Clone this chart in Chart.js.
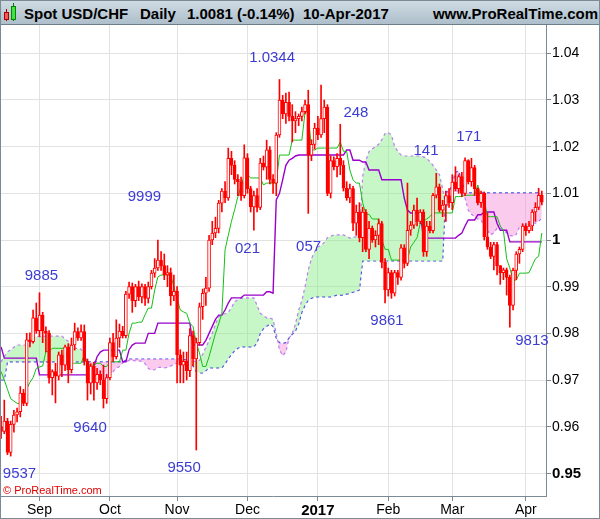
<!DOCTYPE html>
<html>
<head>
<meta charset="utf-8">
<script src="https://cdn.jsdelivr.net/npm/chart.js"></script>
<style>
  body { margin: 0; background: #fff; }
  #wrap { position: relative; width: 600px; height: 519px; overflow: hidden; font-family: "Liberation Sans", Arial, sans-serif; }
  #head { position: absolute; left: 0; top: 0; width: 600px; height: 24px; border-bottom: 1px solid #6f7f8a;
          background: linear-gradient(#d0dce4, #adbfcb); }
  #head span { position: absolute; top: 6px; font-size: 15px; line-height: 15px; font-weight: bold; color: #000; white-space: nowrap; }
  #head i { position: absolute; display: block; }
  #chart { position: absolute; left: 0; top: 25px; }
  #copy { position: absolute; left: 3px; top: 484px; font-size: 11px; color: #e00000; }
  #frame { position: absolute; left: 0; top: 0; width: 598px; height: 517px; border: 1px solid #7b8a94; pointer-events: none; }
</style>
</head>
<body>
<div id="wrap">
  <div id="head">
    <i style="left:6px;top:9px;width:1px;height:12px;background:#900"></i>
    <i style="left:4px;top:12px;width:3px;height:6px;background:#f05a5a;border:1px solid #a00"></i>
    <i style="left:13px;top:3px;width:1px;height:18px;background:#070"></i>
    <i style="left:11px;top:6px;width:3px;height:12px;background:#46e046;border:1px solid #080"></i>
    <span style="left:24px">Spot USD/CHF</span>
    <span style="left:140px">Daily</span>
    <span style="left:187px">1.0081 (-0.14%)</span>
    <span style="left:303px">10-Apr-2017</span>
    <span style="right:2px">www.ProRealTime.com</span>
  </div>
  <canvas id="chart" width="600" height="494"></canvas>
  <div id="copy">© ProRealTime.com</div>
  <div id="frame"></div>
</div>
<script>
// trading days 16-Aug-2016 .. 10-Apr-2017, index 0..169
const opens = [
  .9600,.9590,.9612,.9545,.9605,.9625,.9632,.9672,.9650,.9786,
  .9782,.9833,.9806,.9839,.9805,.9800,.9705,.9718,.9708,.9754,
  .9732,.9771,.9722,.9775,.9804,.9790,.9804,.9740,.9693,.9730,
  .9694,.9712,.9700,.9660,.9705,.9780,.9750,.9790,.9805,.9795,
  .9884,.9900,.9870,.9900,.9878,.9900,.9875,.9900,.9929,.9940,
  .9957,.9945,.9925,.9930,.9880,.9890,.9754,.9732,.9740,.9720,
  .9795,.9745,.9780,.9857,.9886,.9897,1.0000,1.0015,1.0025,1.0079,
  1.0105,1.0090,1.0175,1.0160,1.0130,1.0125,1.0095,1.0176,1.0110,1.0071,
  1.0095,1.0070,1.0165,1.0156,1.0193,1.0130,1.0122,1.0225,1.0300,1.0270,
  1.0295,1.0265,1.0255,1.0260,1.0265,1.0275,1.0290,1.0182,1.0205,1.0240,
  1.0225,1.0260,1.0285,1.0100,1.0170,1.0157,1.0175,1.0160,1.0111,1.0090,
  1.0110,1.0036,1.0060,1.0005,1.0060,.9980,1.0025,1.0000,1.0010,1.0035,
  .9952,.9893,.9930,.9886,.9930,.9920,.9983,.9950,1.0021,1.0032,
  1.0064,1.0040,1.0060,.9975,1.0030,1.0020,1.0096,1.0114,1.0064,1.0075,
  1.0095,1.0080,1.0124,1.0110,1.0136,1.0100,1.0170,1.0125,1.0155,1.0110,
  1.0080,1.0100,1.0007,.9985,.9965,.9990,.9945,.9930,.9936,.9920,
  .9860,.9935,.9970,.9980,1.0030,1.0020,1.0030,1.0060,1.0070,1.0096
];
const highs = [
  .9622,.9657,.9618,.9612,.9635,.9640,.9686,.9680,.9800,.9801,
  .9850,.9865,.9887,.9845,.9814,.9806,.9722,.9736,.9760,.9764,
  .9775,.9778,.9790,.9822,.9812,.9818,.9818,.9745,.9735,.9738,
  .9725,.9720,.9732,.9712,.9790,.9800,.9829,.9820,.9815,.9890,
  .9910,.9908,.9905,.9912,.9906,.9905,.9910,.9935,.9960,1.0000,
  .9975,.9970,.9945,.9940,.9925,.9900,.9765,.9760,.9760,.9810,
  .9805,.9790,.9865,.9895,.9920,1.0010,1.0040,1.0049,1.0085,1.0110,
  1.0125,1.0197,1.0190,1.0170,1.0140,1.0135,1.0204,1.0185,1.0115,1.0105,
  1.0110,1.0175,1.0180,1.0214,1.0200,1.0140,1.0230,1.0344,1.0310,1.0315,
  1.0317,1.0290,1.0275,1.0270,1.0285,1.0300,1.0321,1.0215,1.0250,1.0265,
  1.0332,1.0300,1.0290,1.0180,1.0178,1.0185,1.0248,1.0170,1.0125,1.0120,
  1.0115,1.0075,1.0080,1.0070,1.0065,1.0040,1.0030,1.0020,1.0045,1.0040,
  .9960,.9940,.9935,.9935,.9935,.9990,.9990,1.0122,1.0040,1.0075,
  1.0090,1.0065,1.0065,1.0040,1.0040,1.0100,1.0143,1.0120,1.0085,1.0105,
  1.0110,1.0140,1.0157,1.0140,1.0145,1.0176,1.0172,1.0175,1.0160,1.0112,
  1.0105,1.0103,1.0058,.9995,.9995,.9995,.9945,.9940,.9940,.9925,
  .9940,.9975,.9985,1.0035,1.0035,1.0040,1.0065,1.0080,1.0111,1.0105
];
const lows = [
  .9575,.9585,.9540,.9537,.9588,.9610,.9621,.9645,.9645,.9771,
  .9779,.9800,.9793,.9780,.9760,.9693,.9668,.9651,.9700,.9707,
  .9720,.9694,.9715,.9764,.9785,.9785,.9732,.9657,.9670,.9657,
  .9680,.9690,.9640,.9650,.9700,.9740,.9745,.9770,.9790,.9790,
  .9875,.9845,.9857,.9870,.9865,.9860,.9865,.9895,.9920,.9935,
  .9935,.9915,.9900,.9860,.9870,.9694,.9694,.9694,.9700,.9707,
  .9730,.9550,.9775,.9830,.9860,.9890,.9990,1.0005,1.0015,1.0060,
  1.0080,1.0085,1.0140,1.0120,1.0095,1.0085,1.0090,1.0100,1.0060,1.0021,
  1.0060,1.0065,1.0150,1.0130,1.0120,1.0100,1.0095,1.0220,1.0260,1.0250,
  1.0255,1.0210,1.0230,1.0245,1.0255,1.0270,1.0057,1.0170,1.0195,1.0215,
  1.0220,1.0230,1.0095,1.0090,1.0150,1.0135,1.0140,1.0105,1.0085,1.0080,
  1.0020,1.0010,.9996,.9975,.9975,.9960,.9995,.9985,.9990,.9940,
  .9865,.9880,.9875,.9880,.9905,.9914,.9940,.9945,1.0010,1.0025,
  1.0030,1.0035,.9965,.9965,1.0015,1.0015,1.0090,1.0060,1.0050,1.0040,
  1.0070,1.0065,1.0105,1.0100,1.0093,1.0095,1.0120,1.0115,1.0095,1.0075,
  1.0070,1.0000,.9980,.9960,.9936,.9925,.9905,.9915,.9882,.9813,
  .9850,.9915,.9950,.9975,1.0010,1.0015,1.0020,1.0040,1.0065,1.0075
];
const closes = [
  .9590,.9612,.9545,.9605,.9625,.9632,.9672,.9650,.9786,.9782,
  .9833,.9806,.9839,.9805,.9800,.9705,.9718,.9708,.9754,.9732,
  .9771,.9722,.9775,.9804,.9790,.9804,.9740,.9693,.9730,.9694,
  .9712,.9700,.9660,.9705,.9780,.9750,.9790,.9805,.9795,.9884,
  .9900,.9870,.9900,.9878,.9900,.9875,.9900,.9929,.9940,.9957,
  .9945,.9925,.9930,.9880,.9890,.9754,.9732,.9740,.9720,.9795,
  .9745,.9780,.9857,.9886,.9897,1.0000,1.0015,1.0025,1.0079,1.0105,
  1.0090,1.0175,1.0160,1.0130,1.0125,1.0095,1.0176,1.0110,1.0071,1.0095,
  1.0070,1.0165,1.0156,1.0193,1.0130,1.0122,1.0225,1.0300,1.0270,1.0295,
  1.0265,1.0255,1.0260,1.0265,1.0275,1.0290,1.0182,1.0205,1.0240,1.0225,
  1.0260,1.0285,1.0100,1.0170,1.0157,1.0175,1.0160,1.0111,1.0090,1.0110,
  1.0036,1.0060,1.0005,1.0060,.9980,1.0025,1.0000,1.0010,1.0035,.9952,
  .9893,.9930,.9886,.9930,.9920,.9983,.9950,1.0021,1.0032,1.0064,
  1.0040,1.0060,.9975,1.0030,1.0020,1.0096,1.0114,1.0064,1.0075,1.0095,
  1.0080,1.0124,1.0110,1.0136,1.0100,1.0170,1.0125,1.0155,1.0110,1.0080,
  1.0100,1.0007,.9985,.9965,.9990,.9945,.9930,.9936,.9920,.9860,
  .9935,.9970,.9980,1.0030,1.0020,1.0030,1.0060,1.0070,1.0096,1.0081
];
// Ichimoku lines as drawn on the chart
const tenkan = [
  .9718,.9700,.9680,.9660,.9655,.9650,.9650,.9665,.9680,.9695,
  .9705,.9725,.9728,.9730,.9761,.9761,.9768,.9768,.9768,.9768,
  .9768,.9736,.9736,.9736,.9736,.9736,.9754,.9732,.9732,.9732,
  .9736,.9736,.9729,.9729,.9739,.9739,.9739,.9739,.9764,.9764,
  .9800,.9822,.9822,.9824,.9824,.9840,.9854,.9854,.9893,.9921,
  .9925,.9925,.9925,.9925,.9900,.9876,.9850,.9846,.9843,.9822,
  .9814,.9780,.9758,.9729,.9729,.9750,.9775,.9800,.9820,.9843,
  .9979,1.0010,1.0040,1.0065,1.0093,1.0115,1.0140,1.0140,1.0133,1.0133,
  1.0133,1.0133,1.0118,1.0122,1.0122,1.0122,1.0122,1.0182,1.0182,1.0182,
  1.0182,1.0214,1.0214,1.0214,1.0214,1.0274,1.0274,1.0193,1.0193,1.0197,
  1.0197,1.0197,1.0197,1.0197,1.0197,1.0197,1.0210,1.0190,1.0190,1.0150,
  1.0129,1.0122,1.0122,1.0080,1.0055,1.0055,1.0045,1.0045,1.0045,1.0000,
  .9980,.9980,.9957,.9957,.9957,.9957,.9957,.9957,.9985,.9995,
  1.0005,1.0036,1.0040,1.0045,1.0050,1.0058,1.0058,1.0058,1.0058,1.0058,
  1.0058,1.0058,1.0093,1.0093,1.0093,1.0096,1.0096,1.0096,1.0096,1.0118,
  1.0086,1.0086,1.0050,1.0050,1.0050,1.0050,1.0030,1.0020,.9960,.9940,
  .9914,.9914,.9929,.9929,.9929,.9930,.9945,.9960,.9965,1.0015
];
const kijun = [
  .9771,.9747,.9747,.9747,.9747,.9747,.9747,.9747,.9747,.9747,
  .9747,.9747,.9711,.9711,.9711,.9711,.9711,.9711,.9711,.9711,
  .9711,.9711,.9711,.9711,.9711,.9711,.9711,.9711,.9720,.9729,
  .9750,.9760,.9764,.9764,.9764,.9764,.9764,.9764,.9739,.9739,
  .9765,.9775,.9779,.9779,.9779,.9779,.9800,.9800,.9800,.9822,
  .9822,.9822,.9822,.9822,.9822,.9822,.9822,.9822,.9822,.9822,
  .9775,.9775,.9775,.9775,.9785,.9800,.9815,.9830,.9839,.9839,
  .9850,.9865,.9876,.9876,.9876,.9876,.9882,.9882,.9882,.9882,
  .9882,.9882,.9882,.9889,.9889,.9886,1.0086,1.0100,1.0129,1.0160,
  1.0171,1.0175,1.0180,1.0182,1.0182,1.0182,1.0182,1.0182,1.0182,1.0182,
  1.0182,1.0182,1.0182,1.0182,1.0182,1.0182,1.0182,1.0182,1.0193,1.0193,
  1.0171,1.0171,1.0171,1.0167,1.0167,1.0150,1.0150,1.0150,1.0150,1.0129,
  1.0129,1.0129,1.0129,1.0129,1.0129,1.0129,1.0090,1.0064,1.0058,1.0058,
  1.0058,1.0058,1.0004,1.0004,1.0004,1.0004,1.0004,1.0004,1.0004,1.0004,
  1.0004,1.0004,1.0004,1.0010,1.0015,1.0030,1.0043,1.0043,1.0043,1.0054,
  1.0054,1.0060,1.0060,1.0060,1.0060,1.0036,1.0021,1.0021,1.0021,.9996,
  .9996,.9996,.9996,.9996,.9996,.9996,.9996,.9996,.9996,.9996
];
const spanA = [
  .9739,.9750,.9760,.9765,.9770,.9775,.9775,.9775,.9775,.9778,
  .9790,.9793,.9793,.9793,.9794,.9794,.9794,.9794,.9794,.9794,
  .9788,.9783,.9770,.9768,.9768,.9766,.9755,.9740,.9725,.9715,
  .9705,.9700,.9700,.9702,.9710,.9718,.9725,.9729,.9737,.9739,
  .9742,.9742,.9741,.9741,.9740,.9735,.9725,.9721,.9722,.9727,
  .9727,.9726,.9727,.9730,.9733,.9737,.9737,.9735,.9736,.9738,
  .9740,.9740,.9742,.9755,.9770,.9785,.9800,.9820,.9835,.9840,
  .9842,.9845,.9855,.9868,.9872,.9875,.9876,.9876,.9876,.9876,
  .9860,.9843,.9838,.9833,.9833,.9830,.9800,.9765,.9752,.9760,
  .9790,.9800,.9820,.9850,.9870,.9900,.9936,.9960,.9975,.9985,
  .9988,.9995,1.0005,1.0008,1.0011,1.0011,1.0011,1.0011,1.0008,1.0004,
  1.0006,1.0007,1.0007,1.0136,1.0170,1.0190,1.0195,1.0200,1.0205,1.0215,
  1.0228,1.0230,1.0225,1.0200,1.0190,1.0182,1.0180,1.0180,1.0180,1.0180,
  1.0180,1.0180,1.0178,1.0175,1.0168,1.0160,1.0150,1.0140,1.0110,1.0070,
  1.0080,1.0095,1.0105,1.0105,1.0100,1.0090,1.0064,1.0055,1.0050,1.0045,
  1.0043,1.0030,1.0021,1.0011,1.0015,1.0025,1.0025,1.0022,1.0015,1.0010,
  1.0008,1.0012,1.0028,1.0030,1.0030,1.0032,1.0036,1.0036,1.0040,1.0047
];
const spanB = [
  .9700,.9700,.9739,.9739,.9739,.9739,.9739,.9739,.9739,.9739,
  .9739,.9739,.9739,.9739,.9739,.9739,.9739,.9739,.9739,.9739,
  .9739,.9739,.9739,.9739,.9739,.9739,.9739,.9739,.9739,.9739,
  .9739,.9739,.9739,.9739,.9739,.9739,.9739,.9739,.9739,.9742,
  .9745,.9745,.9745,.9745,.9745,.9745,.9745,.9745,.9745,.9745,
  .9745,.9745,.9745,.9745,.9745,.9745,.9745,.9744,.9743,.9743,
  .9730,.9718,.9715,.9715,.9720,.9726,.9726,.9726,.9726,.9726,
  .9735,.9745,.9755,.9763,.9768,.9771,.9771,.9771,.9771,.9771,
  .9780,.9800,.9810,.9815,.9820,.9815,.9790,.9780,.9778,.9780,
  .9790,.9798,.9805,.9820,.9845,.9860,.9871,.9875,.9878,.9878,
  .9878,.9878,.9878,.9878,.9880,.9882,.9882,.9882,.9884,.9886,
  .9888,.9890,.9893,.9955,.9955,.9955,.9955,.9955,.9955,.9955,
  .9955,.9955,.9955,.9955,.9955,.9955,.9955,.9955,.9955,.9955,
  .9955,.9955,.9955,.9955,.9955,.9955,.9955,.9955,.9955,1.0103,
  1.0103,1.0120,1.0145,1.0148,1.0125,1.0103,1.0101,1.0101,1.0101,1.0101,
  1.0101,1.0101,1.0101,1.0101,1.0101,1.0101,1.0101,1.0101,1.0101,1.0101,
  1.0101,1.0101,1.0101,1.0101,1.0101,1.0101,1.0101,1.0101,1.0101,1.0101
];

// axes
const monthTicks = [12, 34, 55, 77, 99, 121, 141, 164];
const monthLabels = ['Sep', 'Oct', 'Nov', 'Dec', '2017', 'Feb', 'Mar', 'Apr'];
const yTicks = [1.04, 1.03, 1.02, 1.01, 1.00, 0.99, 0.98, 0.97, 0.96, 0.95];
const yLabels = ['1.04', '1.03', '1.02', '1.01', '1', '0.99', '0.98', '0.97', '0.96', '0.95'];
const boldLabels = ['2017', '1', '0.95'];

// swing high / low notes
const noteText  = ['9537', '9885', '9640', '9999', '9550', '021', '1.0344', '057', '248', '9861', '141', '171', '9813'];
const noteAt    = [5.75, 12.6, 27.8, 44.8, 57.2, 77.0, 84.7, 96.1, 110.9, 120.6, 132.8, 146.2, 165.9];
const noteLevel = [.9499, .9923, .9598, 1.0092, .9511, .9981, 1.0390, .9986, 1.0273, .9826, 1.0191, 1.0221, .9784];

const FONT = '"Liberation Sans", Arial, sans-serif';
const AXIS = '#7b8a94';
const GRID = '#e2e2e2';

const wickData = highs.map((h, i) => ({ x: i, y: [lows[i], h] }));
const bodyData = opens.map((o, i) => ({ x: i, y: [Math.min(o, closes[i]), Math.max(o, closes[i])] }));
const bodyFill = opens.map((o, i) => closes[i] > o ? '#ffffff' : '#ff0000');
const asLine = arr => arr.map((v, i) => ({ x: i, y: v }));

const notesPlugin = {
    id: 'notes',
    afterDatasetsDraw(chart) {
        const { ctx, scales: { x, y } } = chart;
        ctx.save();
        ctx.font = '15px ' + FONT;
        ctx.fillStyle = '#3c3cd2';
        ctx.textAlign = 'center';
        ctx.textBaseline = 'middle';
        noteText.forEach((t, k) => {
            ctx.fillText(t, x.getPixelForValue(noteAt[k]), y.getPixelForValue(noteLevel[k]));
        });
        ctx.restore();
    }
};

const tickFont = c => {
    const bold = c.tick && boldLabels.includes(c.tick.label);
    return { family: FONT, size: bold ? 15 : 14, weight: bold ? 'bold' : 'normal' };
};

// no edge padding, the plot must fill its box exactly
const noPad = s => { s.paddingTop = 0; s.paddingBottom = 0; s.paddingLeft = 0; s.paddingRight = 0; };

new Chart(document.getElementById('chart').getContext('2d'), {
    type: 'bar',
    data: {
        datasets: [
            { type: 'bar', label: 'wick', data: wickData, backgroundColor: '#ff0000', borderWidth: 0,
              barThickness: 1, grouped: false, order: 1 },
            { type: 'bar', label: 'body', data: bodyData, backgroundColor: bodyFill, borderColor: '#ff0000',
              borderWidth: 1, borderSkipped: false, barThickness: 3, grouped: false, order: 0 },
            { type: 'line', label: 'Tenkan', data: asLine(tenkan), borderColor: '#14c014', borderWidth: 1,
              pointRadius: 0, tension: 0, order: 2 },
            { type: 'line', label: 'Kijun', data: asLine(kijun), borderColor: '#9a00cc', borderWidth: 1.4,
              pointRadius: 0, tension: 0, order: 3 },
            { type: 'line', label: 'Span A', data: asLine(spanA), borderColor: '#bb7ef0', borderWidth: 1.2,
              borderDash: [3, 3], pointRadius: 0, tension: 0, order: 4,
              fill: { target: '+1', above: 'rgba(130,238,130,0.45)', below: 'rgba(245,140,215,0.45)' } },
            { type: 'line', label: 'Span B', data: asLine(spanB), borderColor: '#3c3cf0', borderWidth: 1.2,
              borderDash: [3, 3], pointRadius: 0, tension: 0, order: 5 }
        ]
    },
    options: {
        responsive: false,
        animation: false,
        devicePixelRatio: 1,
        layout: { padding: 0 },
        plugins: { legend: { display: false }, tooltip: { enabled: false } },
        scales: {
            x: {
                type: 'linear', min: -0.34, max: 170.3, offset: false,
                afterBuildTicks: s => { s.ticks = monthTicks.map(v => ({ value: v })); },
                afterFit: s => { s.height = 23; noPad(s); },
                ticks: { autoSkip: false, maxRotation: 0, padding: 1, color: '#000', font: tickFont,
                         callback: v => monthLabels[monthTicks.indexOf(v)] },
                grid: { color: GRID, tickColor: AXIS, tickLength: 5, offset: false },
                border: { color: AXIS }
            },
            y: {
                position: 'right', min: 0.94515, max: 1.04607,
                afterBuildTicks: s => { s.ticks = yTicks.map(v => ({ value: v })); },
                afterFit: s => { s.width = 54; noPad(s); },
                ticks: { padding: 1, color: '#000', font: tickFont, callback: (v, i) => yLabels[i] },
                grid: { color: GRID, tickColor: AXIS, tickLength: 5 },
                border: { color: AXIS }
            }
        }
    },
    plugins: [notesPlugin]
});
</script>
</body>
</html>
